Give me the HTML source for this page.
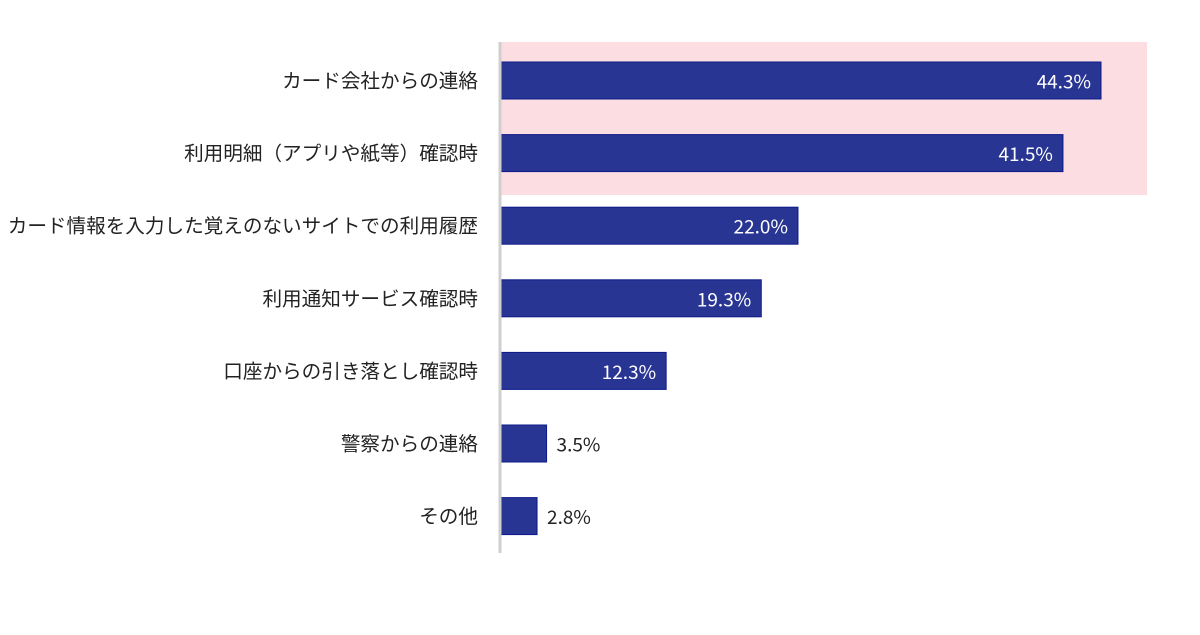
<!DOCTYPE html>
<html><head><meta charset="utf-8"><style>
body{margin:0;background:#fff;width:1200px;height:630px;overflow:hidden;font-family:"Noto Sans CJK JP","Liberation Sans",sans-serif;}
</style></head><body>
<svg id="chart" width="1200" height="630" xmlns="http://www.w3.org/2000/svg" font-family="Noto Sans CJK JP, Liberation Sans, sans-serif">
<rect x="499" y="42" width="648" height="153" fill="#fcdde2"/>
<g id="bars"></g>
<line x1="500" y1="42" x2="500" y2="553" stroke="#cfcfcf" stroke-width="3"/>
</svg>
<script>
const categories=["カード会社からの連絡","利用明細（アプリや紙等）確認時","カード情報を入力した覚えのないサイトでの利用履歴","利用通知サービス確認時","口座からの引き落とし確認時","警察からの連絡","その他"];
const values=[44.3,41.5,22.0,19.3,12.3,3.5,2.8];
const valueLabels=["44.3%","41.5%","22.0%","19.3%","12.3%","3.5%","2.8%"];
const x0=499, scale=602/44.3, top0=62, pitch=72.6, bh=37;
const xs=v=>x0+v*scale;
const ys=i=>top0+i*pitch;
const g=document.getElementById('bars');
const NS="http://www.w3.org/2000/svg";
categories.forEach((c,i)=>{
  const y=ys(i), w=xs(values[i])-x0;
  const r=document.createElementNS(NS,'rect');
  
  
  r.setAttribute('x',x0);r.setAttribute('y',y);r.setAttribute('width',w);r.setAttribute('height',bh);
  r.setAttribute('fill','#283593');r.setAttribute('stroke','#0d1a8a');r.setAttribute('stroke-width','1');
  g.appendChild(r);
  const t=document.createElementNS(NS,'text');
  
  
  t.setAttribute('x',478);t.setAttribute('y',y+bh/2+7);t.setAttribute('text-anchor','end');
  t.setAttribute('font-size','19.6');t.setAttribute('fill','#222');t.textContent=c;
  g.appendChild(t);
  const v=document.createElementNS(NS,'text');
  
  
  const inside=values[i]>8;
  v.setAttribute('x',inside?xs(values[i])-10:xs(values[i])+10);
  v.setAttribute('y',y+bh/2+8);
  v.setAttribute('text-anchor',inside?'end':'start');
  v.setAttribute('font-size','19');v.setAttribute('fill',inside?'#fff':'#222');
  v.textContent=valueLabels[i];
  g.appendChild(v);
});
</script>
</body></html>
